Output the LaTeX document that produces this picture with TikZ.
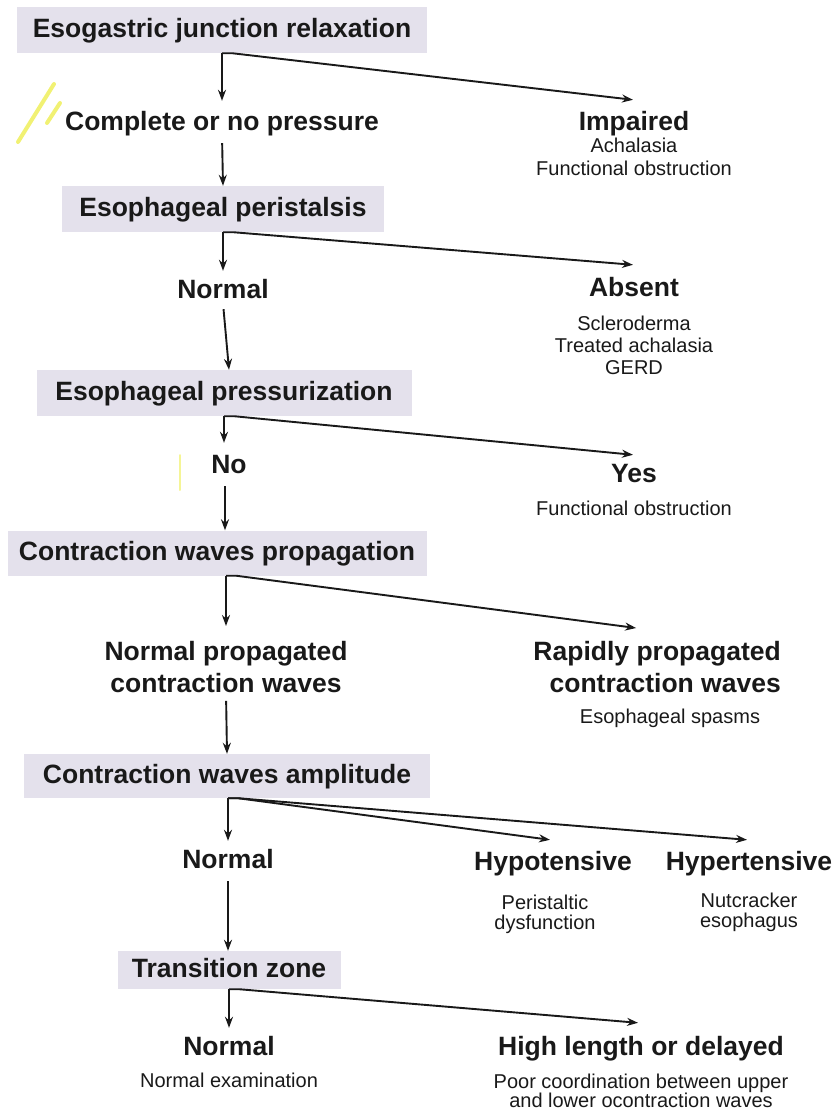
\documentclass[tikz,border=0pt]{standalone}
\usepackage{fontspec}
\setmainfont{Liberation Sans}
\usetikzlibrary{arrows.meta}
\definecolor{boxfill}{RGB}{228,225,236}
\definecolor{ink}{RGB}{25,25,25}
\definecolor{hilite}{RGB}{238,238,80}
\newcommand{\bigf}{\fontsize{26.5}{32}\selectfont\bfseries}
\newcommand{\smallf}{\fontsize{20}{22}\selectfont}
\begin{document}
\begin{tikzpicture}[x=1pt,y=-1pt,
  box/.style={fill=boxfill, inner sep=0pt, minimum height=46pt, font=\bigf, text height=19pt, text depth=5pt, text=ink},
  lab/.style={inner sep=0pt, font=\bigf, text height=19pt, text depth=5pt, text=ink},
  mlab/.style={inner sep=0pt, font=\bigf, text=ink},
  sub/.style={inner sep=0pt, font=\smallf, align=center, text=ink},
  arr/.style={draw=ink, line width=1.9pt, -{Stealth[length=11pt,width=8pt]}},
  hlstroke/.style={draw=hilite, line cap=round}
]
\useasboundingbox (0,0) rectangle (834,1111);

% highlighter marks
\draw[hlstroke, line width=4pt, opacity=0.8] (18,142) -- (54,84);
\draw[hlstroke, line width=4pt, opacity=0.8] (47,123) -- (60,103);
\draw[hlstroke, line width=2pt, opacity=0.6] (180,455) -- (180,490);

% level 1
\node[box, minimum width=410pt] (b1) at (222,30) {Esogastric junction relaxation};
\node[lab] (l1) at (222,123) {Complete or no pressure};
\node[lab] (r1) at (634,123) {Impaired};
\node[sub, anchor=north, font=\fontsize{20}{23}\selectfont] (r1s) at (634,138) {Achalasia\\Functional obstruction};

% level 2
\node[box, minimum width=322pt] (b2) at (223,209) {Esophageal peristalsis};
\node[lab] (l2) at (223,291) {Normal};
\node[lab] (r2) at (634,289) {Absent};
\node[sub, anchor=north] (r2s) at (634,316) {Scleroderma\\Treated achalasia\\GERD};

% level 3
\node[box, minimum width=375pt] (b3) at (224,393) {Esophageal pressurization};
\node[lab] (l3) at (229,466) {No};
\node[lab] (r3) at (634,475) {Yes};
\node[sub, anchor=north] (r3s) at (634,501) {Functional obstruction};

% level 4
\node[box, minimum width=419pt, minimum height=45pt] (b4) at (217,553) {Contraction waves propagation};
\node[mlab, anchor=north, align=center] (l4) at (226,641) {Normal propagated\\contraction waves};
\node[mlab, anchor=north east, align=right] (r4) at (781,641) {Rapidly propagated\\contraction waves};
\node[sub, anchor=north] (r4s) at (670,709) {Esophageal spasms};

% level 5
\node[box, minimum width=406pt, minimum height=44pt] (b5) at (227,776) {Contraction waves amplitude};
\node[lab] (l5) at (228,861) {Normal};
\node[lab] (r5a) at (553,863) {Hypotensive};
\node[sub, anchor=north, font=\fontsize{20}{20}\selectfont] (r5as) at (545,895) {Peristaltic\\dysfunction};
\node[lab] (r5b) at (749,863) {Hypertensive};
\node[sub, anchor=north, font=\fontsize{20}{20}\selectfont] (r5bs) at (749,893) {Nutcracker\\esophagus};

% level 6
\node[box, minimum width=223pt, minimum height=38pt] (b6) at (229,970) {Transition zone};
\node[lab] (l6) at (229,1048) {Normal};
\node[sub, anchor=north] (l6s) at (229,1073) {Normal examination};
\node[lab] (r6) at (641,1048) {High length or delayed};
\node[sub, anchor=north, font=\fontsize{20}{19}\selectfont] (r6s) at (641,1074) {Poor coordination between upper\\and lower ocontraction waves};

% connectors level 1
\draw[arr, shorten >=10pt] (b1.south) -- (l1.north);
\draw[arr] (b1.south) -- ++(10,0) -- ([xshift=-1pt,yshift=11pt]r1.north);
\draw[arr, shorten <=8pt] (l1.south) -- (b2.north);
% level 2
\draw[arr, shorten >=8pt] (b2.south) -- (b2.south |- l2.north);
\draw[arr] (b2.south) -- ++(10,0) -- ([xshift=-1pt,yshift=12pt]r2.north);
\draw[arr, shorten <=6pt] (l2.south) -- ([xshift=5pt]b3.north);
% level 3
\draw[arr, shorten >=11pt] (b3.south) -- (b3.south |- l3.north);
\draw[arr] (b3.south) -- ++(10,0) -- ([xshift=-1pt,yshift=8pt]r3.north);
\draw[arr, shorten <=8pt] ([xshift=-4pt]l3.south) -- ([xshift=-4pt]l3.south |- b4.north);
% level 4
\draw[arr, shorten >=15pt] (l4.north |- b4.south) -- (l4.north);
\draw[arr] (l4.north |- b4.south) -- ++(10,0) -- ([xshift=-21pt,yshift=13pt]r4.north);
\draw[arr, shorten <=8pt] (l4.south) -- ([xshift=1pt]l4.south |- b5.north);
% level 5
\draw[arr, shorten >=8pt] (l5.north |- b5.south) -- (l5.north);
\draw[arr] (l5.north |- b5.south) -- ++(10,0) -- ([xshift=-3pt,yshift=11pt]r5a.north);
\draw[arr] (l5.north |- b5.south) -- ++(10,0) -- ([xshift=-2pt,yshift=11pt]r5b.north);
\draw[arr, shorten <=8pt] (l5.south) -- (l5.south |- b6.north);
% level 6
\draw[arr, shorten >=8pt] (b6.south) -- (l6.north);
\draw[arr] (b6.south) -- ++(10,0) -- ([xshift=-3pt,yshift=13pt]r6.north);
\end{tikzpicture}
\end{document}
